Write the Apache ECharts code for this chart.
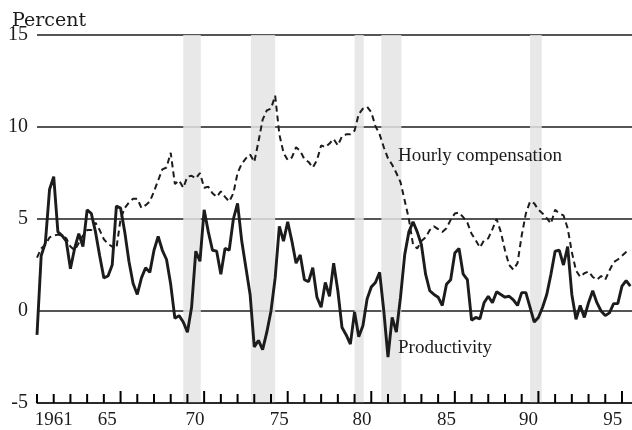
<!DOCTYPE html>
<html>
<head>
<meta charset="utf-8">
<script src="https://cdn.jsdelivr.net/npm/echarts@6/dist/echarts.min.js"></script>
<style>
  html, body { margin: 0; padding: 0; background: #fff; }
  #chart { width: 632px; height: 430px; }
</style>
</head>
<body>
<div id="chart"></div>
<script>
// quarterly series, 1961Q1 .. 1996Q3 (percent change)
const startYear = 1961;
const endYear = 1996.6;

const productivity = [
  -1.3, 3.0, 3.7, 6.6, 7.3, 4.3, 4.1, 3.8, 2.3, 3.4,
  4.2, 3.5, 5.5, 5.3, 4.3, 3.0, 1.8, 1.9, 2.5, 5.7,
  5.6, 4.3, 2.7, 1.5, 0.9, 1.8, 2.35, 2.1, 3.3, 4.05,
  3.3, 2.8, 1.45, -0.4, -0.25, -0.6, -1.15, 0.2, 3.25, 2.7,
  5.5, 4.3, 3.3, 3.25, 2.0, 3.4, 3.3, 5.0, 5.85, 3.8,
  2.35, 0.9, -1.95, -1.6, -2.1, -1.15, 0.0, 1.8, 4.6, 3.8,
  4.85, 3.8, 2.6, 3.05, 1.7, 1.6, 2.35, 0.75, 0.2, 1.55,
  0.8, 2.6, 1.1, -0.9, -1.3, -1.8, -0.05, -1.4, -0.8, 0.65,
  1.3, 1.55, 2.1, 0.0, -2.5, -0.35, -1.15, 0.75, 3.05, 4.3,
  4.85, 4.3, 3.6, 2.0, 1.1, 0.9, 0.75, 0.3, 1.45, 1.7,
  3.15, 3.4, 2.0, 1.7, -0.5, -0.35, -0.43, 0.45, 0.8, 0.45,
  1.05, 0.9, 0.75, 0.8, 0.6, 0.3, 1.0, 1.0, 0.2, -0.6,
  -0.35, 0.2, 0.9, 2.0, 3.25, 3.3, 2.5, 3.5, 0.9, -0.45,
  0.3, -0.35, 0.45, 1.1, 0.45, 0.0, -0.25, -0.1, 0.4, 0.4,
  1.35, 1.65, 1.35
];

const compensation = [
  2.9, 3.4, 3.6, 4.0, 4.1, 4.15, 4.1, 3.95, 3.5, 3.3,
  3.7, 4.1, 4.4, 4.4, 4.8, 4.4, 3.9, 3.65, 3.5, 3.4,
  5.0, 5.6, 5.9, 6.1, 6.1, 5.6, 5.75, 5.95, 6.5, 7.1,
  7.7, 7.8, 8.6, 6.9, 7.1, 6.7, 7.3, 7.35, 7.2, 7.5,
  6.7, 6.75, 6.4, 6.2, 6.5, 6.2, 5.95, 6.4, 7.5, 8.0,
  8.3, 8.5, 8.1, 9.2, 10.4, 10.9, 11.0, 11.7, 9.6, 8.6,
  8.2, 8.35, 8.9, 8.7, 8.25, 8.1, 7.8, 8.2, 9.0, 8.9,
  9.1, 9.35, 9.0, 9.5, 9.6, 9.6, 9.8, 10.7, 11.0, 11.1,
  10.8, 10.05, 9.6, 8.9, 8.3, 7.95, 7.5, 7.0, 6.0, 5.0,
  3.6, 3.4, 3.8, 4.0, 4.4, 4.6, 4.45, 4.3, 4.5, 4.95,
  5.3, 5.35, 5.1, 4.8, 4.2, 3.85, 3.45, 3.85, 3.95, 4.45,
  5.0, 4.3, 3.3, 2.5, 2.25, 2.6, 4.1, 5.3, 5.95, 5.85,
  5.5, 5.3, 5.05, 4.75, 5.5, 5.3, 5.2, 4.5, 3.2, 2.2,
  1.85, 2.05, 2.15, 1.85, 1.7, 1.9, 1.7, 2.2, 2.65, 2.8,
  3.0, 3.2, 3.3
];

// recession periods (start, end) in fractional years
const recessions = [
  [1969.75, 1970.8],
  [1973.8, 1975.25],
  [1980.0, 1980.55],
  [1981.6, 1982.8],
  [1990.5, 1991.2]
];

// x-axis labels sit between the year ticks
const xLabelText = ['1961', '65', '70', '75', '80', '85', '90', '95'];
const xLabelAt = [1962.0, 1965.2, 1970.45, 1975.5, 1980.45, 1985.5, 1990.4, 1995.45];

const yTicks = [-5, 0, 5, 10, 15];

function toPairs(values) {
  return values.map((v, i) => [startYear + i / 4, v]);
}

// one tick per year on the -5 baseline; every fifth one (1966, 1971, ...) is taller
const yearTicks = [];
for (let y = startYear; y <= 1996; y++) {
  yearTicks.push([y, -5, (y - startYear) % 5 === 0 && y !== startYear ? 12 : 9]);
}

const serif = 'Liberation Serif';
const ink = '#1c1c1c';

const chart = echarts.init(document.getElementById('chart'));

const option = {
  animation: false,
  title: {
    text: 'Percent',
    left: 7,
    top: 7,
    textStyle: { fontFamily: 'DejaVu Serif', fontSize: 19, fontWeight: 'normal', color: ink }
  },
  grid: { left: 37, right: 0, top: 35, bottom: 23 },
  xAxis: {
    type: 'value',
    min: startYear,
    max: endYear,
    axisLine: { show: true, onZero: false, lineStyle: { color: ink, width: 1.5 } },
    axisTick: { show: false },
    axisLabel: {
      show: true,
      customValues: xLabelAt,
      margin: 8,
      fontFamily: serif, fontSize: 19, color: ink,
      formatter: (v) => {
        const k = xLabelAt.findIndex(p => Math.abs(p - v) < 0.01);
        return k >= 0 ? xLabelText[k] : '';
      }
    },
    splitLine: { show: false }
  },
  yAxis: {
    type: 'value',
    min: -5,
    max: 15,
    interval: 5,
    axisLine: { show: false },
    axisTick: { show: false },
    axisLabel: {
      margin: 9,
      fontFamily: serif, fontSize: 20, color: ink,
      formatter: (v) => yTicks.includes(v) ? String(v) : ''
    },
    splitLine: { show: true, lineStyle: { color: ink, width: 1.6 } }
  },
  series: [{
    type: 'custom',
    data: recessions,
    silent: true,
    z: 0,
    renderItem: (params, api) => {
      const a = api.coord([api.value(0), 15]);
      const b = api.coord([api.value(1), -5]);
      return {
        type: 'rect',
        shape: { x: a[0], y: a[1], width: b[0] - a[0], height: b[1] - a[1] },
        style: { fill: '#e4e4e4', opacity: 0.85 }
      };
    },
    encode: { x: [0, 1] }
  }, {
    type: 'custom',
    data: yearTicks,
    clip: false,
    z: 10,
    renderItem: (params, api) => {
      const p = api.coord([api.value(0), api.value(1)]);
      const len = api.value(2);
      return {
        type: 'rect',
        shape: { x: p[0] - 1, y: p[1] - len, width: 2, height: len },
        style: { fill: '#000' }
      };
    },
    encode: { x: 0, y: 1 }
  }, {
    type: 'line',
    name: 'Hourly compensation',
    data: toPairs(compensation),
    showSymbol: false,
    symbol: 'none',
    z: 4,
    lineStyle: { color: ink, width: 2, type: [6, 4] },
    markPoint: {
      symbol: 'circle',
      symbolSize: 0,
      label: {
        show: true, position: 'right', distance: 0,
        fontFamily: serif, fontSize: 19, color: ink,
        formatter: 'Hourly compensation'
      },
      data: [{ coord: [1982.6, 8.4] }]
    }
  }, {
    type: 'line',
    name: 'Productivity',
    data: toPairs(productivity),
    showSymbol: false,
    symbol: 'none',
    z: 4,
    lineStyle: { color: ink, width: 2.9 },
    markPoint: {
      symbol: 'circle',
      symbolSize: 0,
      label: {
        show: true, position: 'right', distance: 0,
        fontFamily: serif, fontSize: 19, color: ink,
        formatter: 'Productivity'
      },
      data: [{ coord: [1982.6, -2.0] }]
    }
  }]
};

chart.setOption(option);

window.addEventListener('resize', () => {
  chart.resize();
});
</script>
</body>
</html>
